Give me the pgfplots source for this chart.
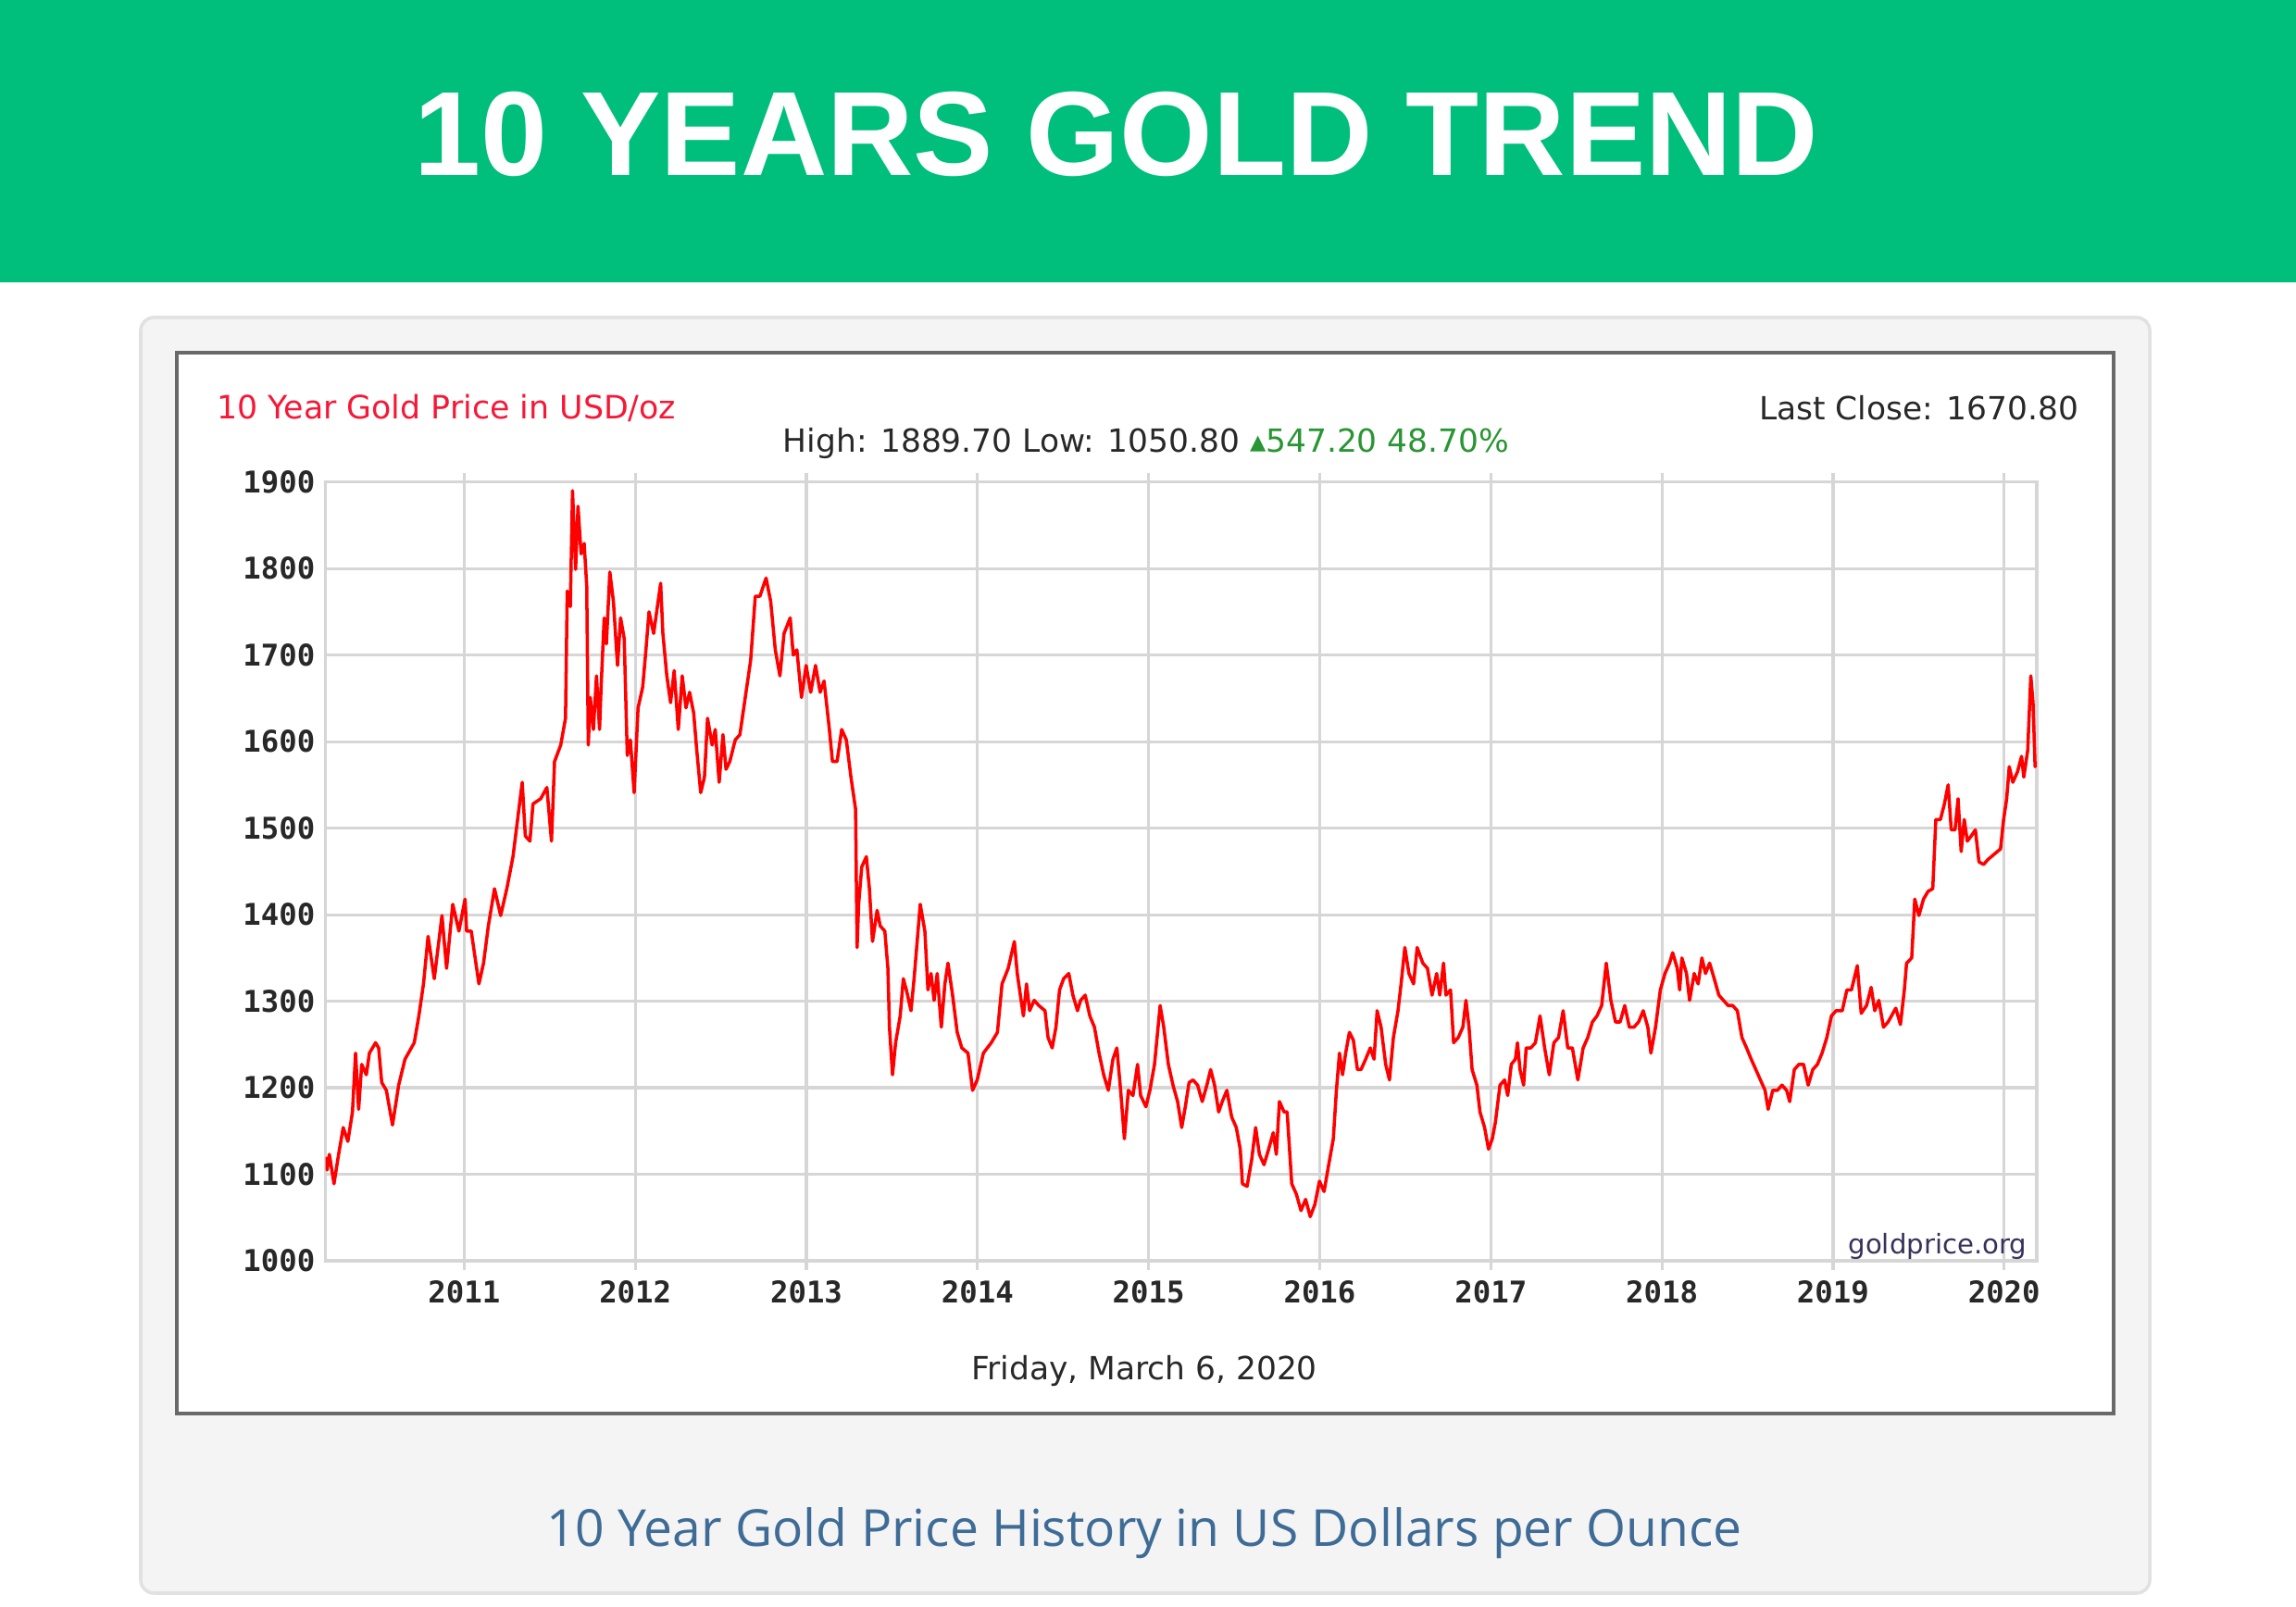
\documentclass[border=0pt]{standalone}
\usepackage{fontspec}
\setmainfont{DejaVu Sans}
\newfontfamily\titlefont{Liberation Sans}
\newfontfamily\monofont{DejaVu Sans Mono}
\newfontfamily\capfont{Open Sans}
\usepackage{graphicx}
\usepackage{pgfplots}
\pgfplotsset{compat=1.18}
\definecolor{bannergreen}{RGB}{0,191,125}
\definecolor{goldred}{RGB}{255,0,0}
\definecolor{gridgray}{RGB}{214,214,214}
\definecolor{panelgray}{RGB}{244,244,244}
\definecolor{panelborder}{RGB}{225,225,225}
\definecolor{boxborder}{RGB}{105,105,105}
\definecolor{redtitle}{RGB}{245,25,55}
\definecolor{greentxt}{RGB}{40,150,50}
\definecolor{captionblue}{RGB}{62,108,150}
\definecolor{darktext}{RGB}{40,40,40}
\definecolor{sitecolor}{RGB}{55,50,90}
\begin{document}
\begin{tikzpicture}[x=1cm,y=1cm]
\useasboundingbox (0,0) rectangle (24.8,17.35);
\fill[white] (0,0) rectangle (24.8,17.35);
\fill[bannergreen] (0,14.30) rectangle (24.8,17.35);
\node[white, inner sep=0pt, font=\titlefont\bfseries\fontsize{36.8}{40}\selectfont] at (12.06,15.895) {10 YEARS GOLD TREND};
\draw[panelborder, fill=panelgray, rounded corners=4pt, line width=1pt] (1.52,0.14) rectangle (23.22,13.92);
\draw[boxborder, fill=white, line width=1.4pt] (1.91,2.08) rectangle (22.83,13.54);

\begin{axis}[
  at={(3.517cm,3.73cm)}, anchor=south west,
  scale only axis, width=18.483cm, height=8.413cm,
  xmin=2010.19, xmax=2020.19, ymin=1000, ymax=1900,
  xtick={2011,2012,...,2020}, ytick={1000,1100,...,1900},
  /pgf/number format/1000 sep={},
  /pgf/number format/assume math mode=true,
  tick label style={font=\monofont\bfseries\fontsize{9.2}{11}\selectfont, text=darktext},
  xmajorgrids, ymajorgrids,
  grid style={draw=gridgray, line width=0.9pt},
  axis line style={draw=gridgray, line width=1pt},
  tick align=outside,
  xtick style={draw=gridgray, line width=0.9pt},
  major tick length=0.1cm,
  ytick style={draw=none},
  xticklabel shift=-0.01cm,
  yticklabel shift=-0.11cm,
]
\addplot[color=goldred, line width=1pt, line join=round] coordinates {
(2010.190,1120) (2010.199,1105) (2010.212,1123) (2010.239,1089) (2010.266,1123)
(2010.293,1154) (2010.320,1138) (2010.347,1172) (2010.365,1240) (2010.383,1175)
(2010.401,1227) (2010.428,1215) (2010.446,1240) (2010.482,1252) (2010.500,1246)
(2010.518,1206) (2010.545,1197) (2010.581,1157) (2010.617,1203) (2010.654,1233)
(2010.708,1252) (2010.735,1283) (2010.762,1320) (2010.789,1375) (2010.825,1326)
(2010.870,1399) (2010.897,1338) (2010.933,1412) (2010.969,1381) (2011.005,1418)
(2011.014,1381) (2011.041,1381) (2011.086,1320) (2011.113,1344) (2011.141,1387)
(2011.177,1430) (2011.213,1399) (2011.249,1430) (2011.285,1467) (2011.312,1510)
(2011.339,1553) (2011.357,1491) (2011.384,1485) (2011.402,1528) (2011.447,1534)
(2011.483,1547) (2011.510,1485) (2011.528,1577) (2011.564,1596) (2011.592,1627)
(2011.602,1774) (2011.620,1756) (2011.633,1890) (2011.651,1799) (2011.665,1872)
(2011.683,1817) (2011.701,1829) (2011.716,1780) (2011.725,1596) (2011.737,1651)
(2011.755,1614) (2011.773,1676) (2011.791,1614) (2011.800,1663) (2011.818,1743)
(2011.831,1713) (2011.851,1796) (2011.872,1762) (2011.896,1688) (2011.914,1743)
(2011.935,1719) (2011.953,1584) (2011.971,1602) (2011.993,1541) (2012.016,1639)
(2012.043,1663) (2012.062,1706) (2012.080,1750) (2012.107,1725) (2012.148,1783)
(2012.161,1725) (2012.184,1676) (2012.206,1645) (2012.227,1682) (2012.251,1614)
(2012.274,1676) (2012.296,1639) (2012.317,1657) (2012.341,1633) (2012.359,1590)
(2012.382,1541) (2012.404,1559) (2012.422,1627) (2012.449,1596) (2012.467,1614)
(2012.490,1553) (2012.512,1608) (2012.530,1568) (2012.552,1577) (2012.584,1602)
(2012.611,1608) (2012.638,1645) (2012.674,1694) (2012.701,1768) (2012.728,1768)
(2012.764,1789) (2012.791,1762) (2012.818,1706) (2012.845,1676) (2012.869,1725)
(2012.905,1743) (2012.923,1700) (2012.944,1706) (2012.971,1651) (2012.998,1688)
(2013.025,1657) (2013.053,1688) (2013.080,1657) (2013.103,1670) (2013.134,1614)
(2013.152,1577) (2013.179,1577) (2013.206,1614) (2013.233,1602) (2013.260,1559)
(2013.287,1522) (2013.296,1362) (2013.305,1412) (2013.323,1455) (2013.350,1467)
(2013.368,1430) (2013.386,1369) (2013.413,1405) (2013.431,1387) (2013.458,1381)
(2013.476,1338) (2013.485,1270) (2013.503,1215) (2013.521,1252) (2013.548,1283)
(2013.566,1326) (2013.584,1313) (2013.611,1289) (2013.629,1326) (2013.647,1369)
(2013.665,1412) (2013.692,1381) (2013.710,1313) (2013.728,1332) (2013.746,1301)
(2013.764,1332) (2013.788,1270) (2013.809,1320) (2013.827,1344) (2013.854,1307)
(2013.881,1264) (2013.908,1246) (2013.944,1240) (2013.971,1197) (2013.998,1209)
(2014.034,1240) (2014.080,1252) (2014.116,1264) (2014.143,1320) (2014.179,1338)
(2014.215,1369) (2014.232,1332) (2014.250,1307) (2014.268,1283) (2014.286,1320)
(2014.304,1289) (2014.331,1301) (2014.358,1295) (2014.394,1289) (2014.412,1258)
(2014.436,1246) (2014.458,1270) (2014.479,1313) (2014.503,1326) (2014.533,1332)
(2014.557,1307) (2014.584,1289) (2014.602,1301) (2014.629,1307) (2014.656,1283)
(2014.683,1270) (2014.710,1240) (2014.737,1215) (2014.764,1197) (2014.791,1233)
(2014.814,1246) (2014.836,1197) (2014.858,1141) (2014.881,1197) (2014.908,1191)
(2014.935,1227) (2014.953,1191) (2014.984,1178) (2015.007,1197) (2015.034,1227)
(2015.067,1295) (2015.088,1270) (2015.115,1227) (2015.142,1203) (2015.169,1184)
(2015.193,1154) (2015.214,1178) (2015.236,1206) (2015.259,1209) (2015.286,1203)
(2015.313,1184) (2015.340,1203) (2015.362,1221) (2015.385,1203) (2015.409,1172)
(2015.430,1184) (2015.457,1197) (2015.485,1166) (2015.512,1154) (2015.535,1129)
(2015.548,1089) (2015.575,1086) (2015.602,1117) (2015.625,1154) (2015.647,1123)
(2015.674,1111) (2015.701,1129) (2015.728,1148) (2015.746,1123) (2015.764,1184)
(2015.791,1172) (2015.809,1172) (2015.836,1089) (2015.863,1077) (2015.890,1058)
(2015.917,1071) (2015.944,1051) (2015.971,1065) (2015.998,1092) (2016.025,1080)
(2016.052,1111) (2016.079,1141) (2016.097,1197) (2016.115,1240) (2016.133,1215)
(2016.151,1240) (2016.173,1264) (2016.196,1255) (2016.220,1221) (2016.241,1221)
(2016.268,1233) (2016.295,1246) (2016.317,1233) (2016.335,1289) (2016.358,1270)
(2016.385,1227) (2016.407,1209) (2016.430,1258) (2016.457,1289) (2016.475,1320)
(2016.497,1362) (2016.521,1332) (2016.548,1320) (2016.569,1362) (2016.602,1344)
(2016.629,1338) (2016.656,1307) (2016.683,1332) (2016.701,1307) (2016.723,1344)
(2016.737,1307) (2016.764,1313) (2016.782,1252) (2016.809,1258) (2016.836,1270)
(2016.854,1301) (2016.872,1270) (2016.890,1221) (2016.918,1203) (2016.936,1172)
(2016.963,1154) (2016.986,1129) (2017.008,1141) (2017.026,1160) (2017.053,1203)
(2017.080,1209) (2017.098,1191) (2017.119,1227) (2017.143,1233) (2017.155,1252)
(2017.170,1221) (2017.191,1203) (2017.206,1246) (2017.233,1246) (2017.260,1252)
(2017.287,1283) (2017.314,1246) (2017.341,1215) (2017.368,1252) (2017.395,1258)
(2017.422,1289) (2017.449,1246) (2017.476,1246) (2017.508,1209) (2017.539,1246)
(2017.566,1258) (2017.593,1276) (2017.620,1283) (2017.647,1295) (2017.674,1344)
(2017.701,1301) (2017.728,1276) (2017.755,1276) (2017.782,1295) (2017.809,1270)
(2017.836,1270) (2017.863,1276) (2017.890,1289) (2017.917,1270) (2017.935,1240)
(2017.962,1270) (2017.990,1313) (2018.017,1332) (2018.044,1344) (2018.062,1356)
(2018.089,1338) (2018.103,1313) (2018.116,1350) (2018.143,1332) (2018.161,1301)
(2018.188,1332) (2018.211,1320) (2018.233,1350) (2018.254,1332) (2018.278,1344)
(2018.305,1326) (2018.332,1307) (2018.359,1301) (2018.386,1295) (2018.413,1295)
(2018.440,1289) (2018.467,1258) (2018.494,1246) (2018.521,1233) (2018.548,1221)
(2018.575,1209) (2018.602,1197) (2018.620,1175) (2018.647,1197) (2018.674,1197)
(2018.701,1203) (2018.728,1197) (2018.746,1184) (2018.773,1221) (2018.800,1227)
(2018.827,1227) (2018.854,1203) (2018.881,1221) (2018.908,1227) (2018.935,1240)
(2018.963,1258) (2018.990,1283) (2019.017,1289) (2019.053,1289) (2019.080,1313)
(2019.107,1313) (2019.141,1341) (2019.164,1286) (2019.195,1295) (2019.222,1316)
(2019.243,1289) (2019.267,1301) (2019.294,1270) (2019.321,1276) (2019.366,1292)
(2019.393,1273) (2019.416,1313) (2019.429,1344) (2019.459,1350) (2019.477,1418)
(2019.501,1399) (2019.528,1418) (2019.555,1427) (2019.582,1430) (2019.600,1510)
(2019.627,1510) (2019.650,1528) (2019.672,1550) (2019.690,1498) (2019.712,1498)
(2019.730,1534) (2019.748,1473) (2019.766,1510) (2019.784,1485) (2019.807,1491)
(2019.831,1498) (2019.852,1461) (2019.879,1458) (2019.906,1464) (2019.942,1470)
(2019.978,1476) (2019.996,1510) (2020.014,1534) (2020.029,1571) (2020.050,1553)
(2020.077,1565) (2020.101,1583) (2020.114,1559) (2020.137,1590) (2020.155,1676)
(2020.168,1645) (2020.180,1571) (2020.189,1577)
};
\end{axis}

\node[anchor=base west, inner sep=0pt, text=redtitle, font=\fontsize{9.9}{12}\selectfont] at (2.34,12.825) {10 Year Gold Price in USD/oz};
\node[anchor=base east, inner sep=0pt, text=darktext, font=\fontsize{9.8}{12}\selectfont] at (22.46,12.81) {Last Close: 1670.80};
\node[anchor=base, inner sep=0pt, text=darktext, font=\fontsize{9.8}{12}\selectfont] at (12.38,12.46) {High: 1889.70 Low: 1050.80 \textcolor{greentxt}{▴547.20 48.70\%}};
\node[anchor=base, inner sep=0pt, text=darktext, font=\fontsize{9.8}{12}\selectfont] at (12.36,2.44) {Friday, March 6, 2020};
\node[anchor=base east, inner sep=0pt, text=sitecolor, font=\fontsize{8.3}{10}\selectfont] at (21.90,3.80) {goldprice.org};
\node[anchor=base, inner sep=0pt, text=captionblue, font=\capfont\fontsize{15.7}{19}\selectfont] at (12.36,0.65) {10 Year Gold Price History in US Dollars per Ounce};
\end{tikzpicture}
\end{document}
